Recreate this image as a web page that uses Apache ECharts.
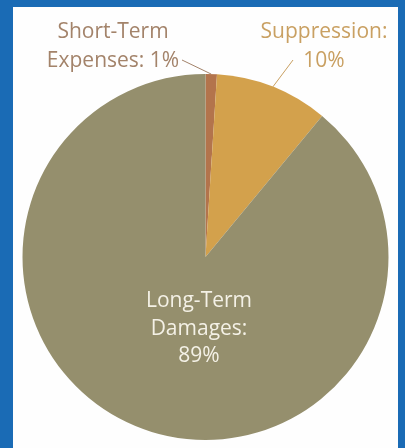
<!DOCTYPE html>
<html>
<head>
<meta charset="utf-8">
<script src="https://cdn.jsdelivr.net/npm/echarts@6/dist/echarts.min.js"></script>
<style>
  html, body { margin: 0; padding: 0; background: #fff; }
  #chart { width: 405px; height: 448px; }
</style>
</head>
<body>
<div id="chart"></div>
<script>
// Wildfire cost breakdown
const categories = ['Short-Term\nExpenses: 1%', 'Suppression:\n10%', 'Long-Term\nDamages:\n89%'];
const shares = [1, 10, 89];
const sliceColors = ['#b3744c', '#d3a14c', '#958f6d'];
const labelColors = ['#a3836a', '#c9a062', '#f4f1e6'];
// label anchor points (centre of each text block) in pixels
const labelSpots = [[113, 46.5], [324, 46.5], [199, 329]];

const chart = echarts.init(document.getElementById('chart'), null, { renderer: 'canvas' });

const data = categories.map((name, i) => ({
  name: name,
  value: shares[i],
  itemStyle: { color: sliceColors[i] },
  label: {
    color: labelColors[i],
    lineHeight: i === 2 ? 27.5 : 29
  },
  labelLine: { show: i < 2, lineStyle: { color: labelColors[i], width: 1 } }
}));

chart.setOption({
  backgroundColor: '#1a6bb5',
  animation: false,
  graphic: [{
    type: 'rect',
    z: -10,
    shape: { x: 13, y: 7, width: 385, height: 445 },
    style: { fill: '#fefefe' }
  }],
  series: [{
    type: 'pie',
    center: [205.5, 257],
    radius: 183,
    startAngle: 90,
    clockwise: true,
    avoidLabelOverlap: false,
    label: {
      show: true,
      position: 'outside',
      fontFamily: 'Open Sans',
      fontSize: 21,
      align: 'center',
      formatter: p => p.name
    },
    labelLine: { show: true, length: 10, length2: 10 },
    labelLayout: function (params) {
      const spot = labelSpots[params.dataIndex];
      const out = { x: spot[0], y: spot[1], align: 'center', verticalAlign: 'middle' };
      if (params.dataIndex < 2 && params.labelLinePoints) {
        const anchor = params.labelLinePoints[0];
        const end = params.dataIndex === 0 ? [182, 60] : [293, 60];
        out.labelLinePoints = [anchor, end];
      }
      return out;
    },
    emphasis: { disabled: true },
    data: data
  }]
});
</script>
</body>
</html>
